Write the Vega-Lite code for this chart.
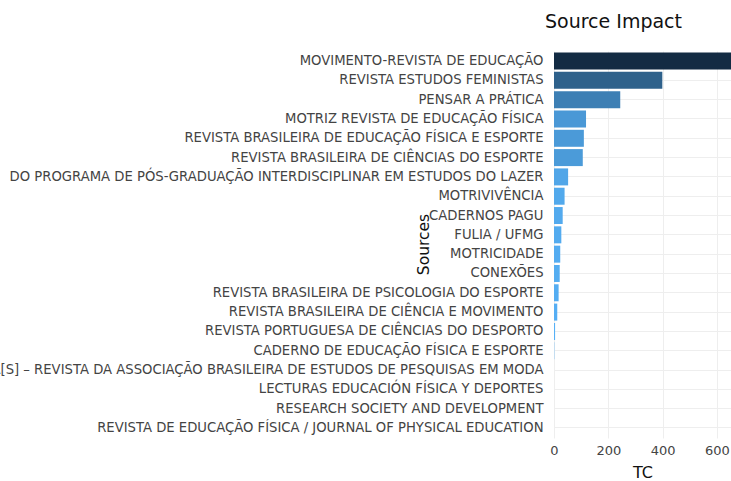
{
  "$schema": "https://vega.github.io/schema/vega-lite/v6.json",
  "autosize": {"type": "none"},
  "padding": {"left": 554, "top": 51, "right": 0, "bottom": 43},
  "width": 177,
  "height": 387,
  "background": "white",
  "title": {"text": "Source Impact", "anchor": "start", "frame": "group", "dx": -9, "offset": 19, "fontSize": 19, "fontWeight": "normal", "color": "#111", "font": "DejaVu Sans"},
  "data": {"values": [
    {"source": "MOVIMENTO-REVISTA DE EDUCAÇÃO", "TC": 700},
    {"source": "REVISTA ESTUDOS FEMINISTAS", "TC": 399},
    {"source": "PENSAR A PRÁTICA", "TC": 244},
    {"source": "MOTRIZ REVISTA DE EDUCAÇÃO FÍSICA", "TC": 118},
    {"source": "REVISTA BRASILEIRA DE EDUCAÇÃO FÍSICA E ESPORTE", "TC": 110},
    {"source": "REVISTA BRASILEIRA DE CIÊNCIAS DO ESPORTE", "TC": 106},
    {"source": "DO PROGRAMA DE PÓS-GRADUAÇÃO INTERDISCIPLINAR EM ESTUDOS DO LAZER", "TC": 52},
    {"source": "MOTRIVIVÊNCIA", "TC": 39},
    {"source": "CADERNOS PAGU", "TC": 32},
    {"source": "FULIA / UFMG", "TC": 27},
    {"source": "MOTRICIDADE", "TC": 23},
    {"source": "CONEXÕES", "TC": 21},
    {"source": "REVISTA BRASILEIRA DE PSICOLOGIA DO ESPORTE", "TC": 17},
    {"source": "REVISTA BRASILEIRA DE CIÊNCIA E MOVIMENTO", "TC": 12},
    {"source": "REVISTA PORTUGUESA DE CIÊNCIAS DO DESPORTO", "TC": 4},
    {"source": "CADERNO DE EDUCAÇÃO FÍSICA E ESPORTE", "TC": 1},
    {"source": "DOBRA[S] – REVISTA DA ASSOCIAÇÃO BRASILEIRA DE ESTUDOS DE PESQUISAS EM MODA", "TC": 0},
    {"source": "LECTURAS EDUCACIÓN FÍSICA Y DEPORTES", "TC": 0},
    {"source": "RESEARCH SOCIETY AND DEVELOPMENT", "TC": 0},
    {"source": "REVISTA DE EDUCAÇÃO FÍSICA / JOURNAL OF PHYSICAL EDUCATION", "TC": 0}
  ]},
  "mark": {"type": "bar", "clip": true},
  "encoding": {
    "y": {
      "field": "source", "type": "nominal",
      "sort": {"field": "TC", "order": "descending"},
      "scale": {"paddingInner": 0.12, "paddingOuter": 0.08},
      "axis": {
        "title": "Sources", "titleX": -131, "titleY": 193, "titleAngle": -90,
        "titleAlign": "center", "titleBaseline": "middle",
        "titleFontSize": 15.5, "titleFontWeight": "normal", "titleColor": "#111",
        "labelFontSize": 13.2, "labelColor": "#444", "labelPadding": 11, "labelLimit": 1000,
        "ticks": false, "domain": false, "grid": true, "gridColor": "#eeeeee"
      }
    },
    "x": {
      "field": "TC", "type": "quantitative",
      "scale": {"domain": [0, 652], "nice": false, "zero": false},
      "axis": {
        "title": "TC", "values": [0, 200, 400, 600],
        "titleFontSize": 16, "titleFontWeight": "normal", "titleColor": "#111", "titlePadding": 7,
        "labelFontSize": 13, "labelColor": "#444", "labelPadding": 6, "labelFlush": false,
        "ticks": false, "domain": false, "grid": true, "gridColor": "#eeeeee"
      }
    },
    "color": {
      "field": "TC", "type": "quantitative",
      "scale": {"domain": [0, 700], "range": ["#56B1F7", "#132B43"], "interpolate": "lab"},
      "legend": null
    }
  },
  "config": {
    "font": "DejaVu Sans",
    "view": {"stroke": null}
  }
}
